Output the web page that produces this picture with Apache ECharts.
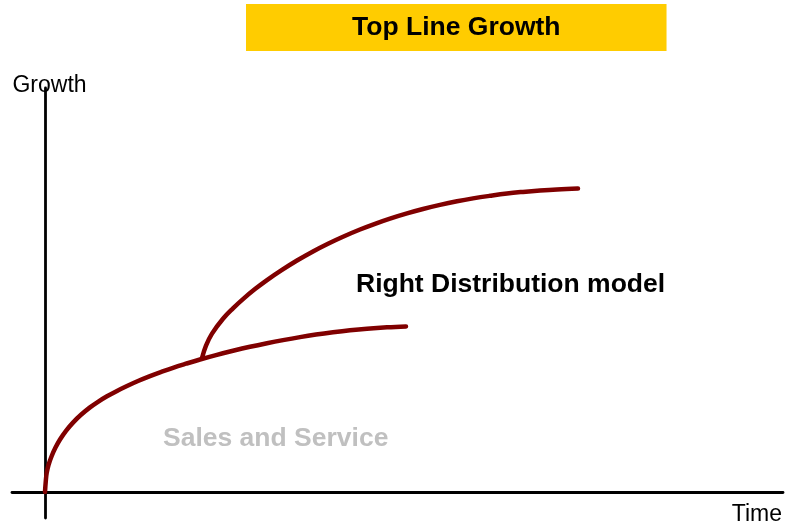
<!DOCTYPE html>
<html>
<head>
<meta charset="utf-8">
<title>Top Line Growth</title>
<script src="https://cdn.jsdelivr.net/npm/echarts@6/dist/echarts.min.js"></script>
<style>
  html, body { margin: 0; padding: 0; background: #fff; }
  #chart { width: 787px; height: 527px; }
</style>
</head>
<body>
<div id="chart"></div>
<script>
// time / growth in loose units
const salesTime = [0, 0.08, 0.17, 0.35, 0.67, 1.05, 1.5, 2.1, 2.8, 3.6, 4.5, 5.3, 6.2, 7.2, 8.2, 9.3, 10.5,
  11.6, 12.8, 14.1, 15.5, 17.1, 18.8, 20.5, 22.2, 23.8, 25.5, 27.1, 28.8, 30.5, 32.2, 34.2, 36.1]
const salesGrowth = [0, 1.1, 1.9, 2.7, 3.6, 4.44, 5.25, 6.12, 6.94, 7.72, 8.46, 9.02, 9.57, 10.11, 10.6, 11.1, 11.59,
  12.0, 12.42, 12.83, 13.25, 13.69, 14.12, 14.52, 14.88, 15.19, 15.49, 15.74, 15.97, 16.17, 16.33, 16.47, 16.56]
const rightTime = [15.7, 16.1, 16.7, 17.8, 18.8, 19.8, 21.0, 22.2, 23.7, 25.2, 26.8, 28.3, 29.8, 31.5, 33.0,
  34.5, 36.2, 37.8, 39.5, 41.2, 42.8, 44.5, 46.2, 47.8, 49.5, 51.2, 53.3]
const rightGrowth = [13.4, 14.64, 15.84, 17.33, 18.37, 19.29, 20.29, 21.19, 22.21, 23.15, 24.06, 24.83, 25.53, 26.25, 26.82,
  27.34, 27.86, 28.3, 28.71, 29.07, 29.36, 29.62, 29.85, 30.01, 30.15, 30.26, 30.35]

const font = "'Liberation Sans', Arial, sans-serif"
const lineColor = '#800000'

function zip(xs, ys) {
  return xs.map((x, i) => [x, ys[i]])
}

const chart = echarts.init(document.getElementById('chart'))

chart.setOption({
  animation: false,
  backgroundColor: '#fff',
  title: {
    text: 'Top Line Growth',
    left: 246,
    top: 4,
    padding: [10, 106, 10, 106],
    backgroundColor: '#FFCC00',
    textStyle: {
      fontFamily: font,
      fontSize: 26.5,
      fontWeight: 'bold',
      color: '#000',
      lineHeight: 27
    }
  },
  grid: {
    left: 12,
    right: 4,
    top: 88,
    bottom: 9,
    containLabel: false,
    outerBoundsMode: 'none'
  },
  xAxis: {
    type: 'value',
    min: -3.3,
    max: 73.8,
    name: 'Time',
    nameLocation: 'end',
    nameGap: -1,
    nameMoveOverlap: false,
    nameTextStyle: {
      fontFamily: font,
      fontSize: 23,
      color: '#000',
      align: 'right',
      verticalAlign: 'top',
      padding: [11.5, 0, 0, 0]
    },
    axisLine: { onZero: true, lineStyle: { color: '#000', width: 2.8 } },
    axisTick: { show: false },
    axisLabel: { show: false },
    splitLine: { show: false }
  },
  yAxis: {
    type: 'value',
    min: -2.6,
    max: 40.4,
    name: 'Growth',
    nameLocation: 'end',
    nameGap: 2.5,
    nameMoveOverlap: false,
    nameTextStyle: {
      fontFamily: font,
      fontSize: 23,
      color: '#000',
      align: 'center',
      verticalAlign: 'middle',
      padding: [0, 0, 0, 9]
    },
    axisLine: { onZero: true, lineStyle: { color: '#000', width: 2.8 } },
    axisTick: { show: false },
    axisLabel: { show: false },
    splitLine: { show: false }
  },
  graphic: [
    {
      type: 'text',
      left: 356,
      top: 271,
      style: {
        text: 'Right Distribution model',
        font: 'bold 26.5px ' + font,
        fill: '#000'
      }
    },
    {
      type: 'text',
      left: 163,
      top: 425,
      style: {
        text: 'Sales and Service',
        font: 'bold 26.5px ' + font,
        fill: '#C0C0C0'
      }
    }
  ],
  series: [
    {
      name: 'Sales and Service',
      type: 'line',
      data: zip(salesTime, salesGrowth),
      smooth: 0.4,
      showSymbol: false,
      silent: true,
      lineStyle: { color: lineColor, width: 4.5, cap: 'round', join: 'round' }
    },
    {
      name: 'Right Distribution model',
      type: 'line',
      data: zip(rightTime, rightGrowth),
      smooth: 0.4,
      showSymbol: false,
      silent: true,
      lineStyle: { color: lineColor, width: 4.5, cap: 'round', join: 'round' }
    }
  ]
})
</script>
</body>
</html>
